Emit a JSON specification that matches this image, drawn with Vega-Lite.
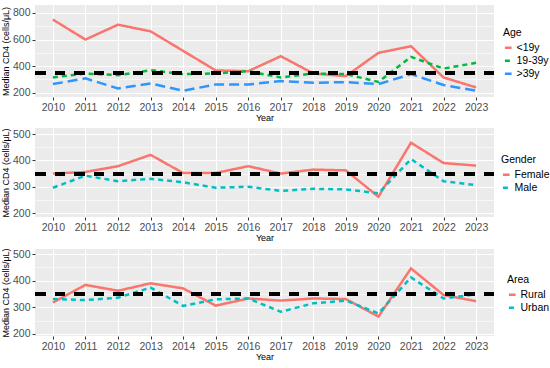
{
  "$schema": "https://vega.github.io/schema/vega-lite/v6.json",
  "background": "white",
  "padding": {"left": 1, "top": 5, "right": 2, "bottom": 3},
  "spacing": 4,
  "datasets": {
    "age": [
      {"Year": "2010", "Group": "<19y", "CD4": 750},
      {"Year": "2011", "Group": "<19y", "CD4": 600},
      {"Year": "2012", "Group": "<19y", "CD4": 712},
      {"Year": "2013", "Group": "<19y", "CD4": 662},
      {"Year": "2014", "Group": "<19y", "CD4": 515},
      {"Year": "2015", "Group": "<19y", "CD4": 368},
      {"Year": "2016", "Group": "<19y", "CD4": 362},
      {"Year": "2017", "Group": "<19y", "CD4": 475},
      {"Year": "2018", "Group": "<19y", "CD4": 345},
      {"Year": "2019", "Group": "<19y", "CD4": 325},
      {"Year": "2020", "Group": "<19y", "CD4": 500},
      {"Year": "2021", "Group": "<19y", "CD4": 550},
      {"Year": "2022", "Group": "<19y", "CD4": 315},
      {"Year": "2023", "Group": "<19y", "CD4": 240},
      {"Year": "2010", "Group": "19-39y", "CD4": 315},
      {"Year": "2011", "Group": "19-39y", "CD4": 345},
      {"Year": "2012", "Group": "19-39y", "CD4": 332},
      {"Year": "2013", "Group": "19-39y", "CD4": 370},
      {"Year": "2014", "Group": "19-39y", "CD4": 340},
      {"Year": "2015", "Group": "19-39y", "CD4": 345},
      {"Year": "2016", "Group": "19-39y", "CD4": 362},
      {"Year": "2017", "Group": "19-39y", "CD4": 315},
      {"Year": "2018", "Group": "19-39y", "CD4": 345},
      {"Year": "2019", "Group": "19-39y", "CD4": 340},
      {"Year": "2020", "Group": "19-39y", "CD4": 282},
      {"Year": "2021", "Group": "19-39y", "CD4": 470},
      {"Year": "2022", "Group": "19-39y", "CD4": 382},
      {"Year": "2023", "Group": "19-39y", "CD4": 425},
      {"Year": "2010", "Group": ">39y", "CD4": 265},
      {"Year": "2011", "Group": ">39y", "CD4": 308},
      {"Year": "2012", "Group": ">39y", "CD4": 232},
      {"Year": "2013", "Group": ">39y", "CD4": 270},
      {"Year": "2014", "Group": ">39y", "CD4": 215},
      {"Year": "2015", "Group": ">39y", "CD4": 262},
      {"Year": "2016", "Group": ">39y", "CD4": 262},
      {"Year": "2017", "Group": ">39y", "CD4": 288},
      {"Year": "2018", "Group": ">39y", "CD4": 275},
      {"Year": "2019", "Group": ">39y", "CD4": 280},
      {"Year": "2020", "Group": ">39y", "CD4": 265},
      {"Year": "2021", "Group": ">39y", "CD4": 340},
      {"Year": "2022", "Group": ">39y", "CD4": 258},
      {"Year": "2023", "Group": ">39y", "CD4": 215}
    ],
    "gender": [
      {"Year": "2010", "Group": "Female", "CD4": 350},
      {"Year": "2011", "Group": "Female", "CD4": 356},
      {"Year": "2012", "Group": "Female", "CD4": 378},
      {"Year": "2013", "Group": "Female", "CD4": 421},
      {"Year": "2014", "Group": "Female", "CD4": 352},
      {"Year": "2015", "Group": "Female", "CD4": 352},
      {"Year": "2016", "Group": "Female", "CD4": 378},
      {"Year": "2017", "Group": "Female", "CD4": 350},
      {"Year": "2018", "Group": "Female", "CD4": 365},
      {"Year": "2019", "Group": "Female", "CD4": 362},
      {"Year": "2020", "Group": "Female", "CD4": 262},
      {"Year": "2021", "Group": "Female", "CD4": 467},
      {"Year": "2022", "Group": "Female", "CD4": 390},
      {"Year": "2023", "Group": "Female", "CD4": 380},
      {"Year": "2010", "Group": "Male", "CD4": 296},
      {"Year": "2011", "Group": "Male", "CD4": 342},
      {"Year": "2012", "Group": "Male", "CD4": 321},
      {"Year": "2013", "Group": "Male", "CD4": 330},
      {"Year": "2014", "Group": "Male", "CD4": 317},
      {"Year": "2015", "Group": "Male", "CD4": 296},
      {"Year": "2016", "Group": "Male", "CD4": 300},
      {"Year": "2017", "Group": "Male", "CD4": 284},
      {"Year": "2018", "Group": "Male", "CD4": 292},
      {"Year": "2019", "Group": "Male", "CD4": 290},
      {"Year": "2020", "Group": "Male", "CD4": 275},
      {"Year": "2021", "Group": "Male", "CD4": 405},
      {"Year": "2022", "Group": "Male", "CD4": 321},
      {"Year": "2023", "Group": "Male", "CD4": 306}
    ],
    "area": [
      {"Year": "2010", "Group": "Rural", "CD4": 318},
      {"Year": "2011", "Group": "Rural", "CD4": 384},
      {"Year": "2012", "Group": "Rural", "CD4": 362},
      {"Year": "2013", "Group": "Rural", "CD4": 390},
      {"Year": "2014", "Group": "Rural", "CD4": 371},
      {"Year": "2015", "Group": "Rural", "CD4": 306},
      {"Year": "2016", "Group": "Rural", "CD4": 333},
      {"Year": "2017", "Group": "Rural", "CD4": 325},
      {"Year": "2018", "Group": "Rural", "CD4": 333},
      {"Year": "2019", "Group": "Rural", "CD4": 331},
      {"Year": "2020", "Group": "Rural", "CD4": 265},
      {"Year": "2021", "Group": "Rural", "CD4": 446},
      {"Year": "2022", "Group": "Rural", "CD4": 346},
      {"Year": "2023", "Group": "Rural", "CD4": 323},
      {"Year": "2010", "Group": "Urban", "CD4": 331},
      {"Year": "2011", "Group": "Urban", "CD4": 327},
      {"Year": "2012", "Group": "Urban", "CD4": 336},
      {"Year": "2013", "Group": "Urban", "CD4": 374},
      {"Year": "2014", "Group": "Urban", "CD4": 305},
      {"Year": "2015", "Group": "Urban", "CD4": 330},
      {"Year": "2016", "Group": "Urban", "CD4": 333},
      {"Year": "2017", "Group": "Urban", "CD4": 283},
      {"Year": "2018", "Group": "Urban", "CD4": 315},
      {"Year": "2019", "Group": "Urban", "CD4": 325},
      {"Year": "2020", "Group": "Urban", "CD4": 277},
      {"Year": "2021", "Group": "Urban", "CD4": 412},
      {"Year": "2022", "Group": "Urban", "CD4": 333},
      {"Year": "2023", "Group": "Urban", "CD4": 349}
    ]
  },
  "resolve": {"scale": {"color": "independent", "strokeDash": "independent", "y": "independent"}, "legend": {"color": "independent", "strokeDash": "independent"}},
  "vconcat": [
    {
      "width": 459, "height": 92,
      "data": {"name": "age"},
      "layer": [
        {
          "mark": {"type": "line", "strokeWidth": 2.5},
          "encoding": {
            "x": {"field": "Year", "type": "ordinal", "scale": {"type": "point", "padding": 0.55}, "axis": {"title": "Year"}},
            "y": {"field": "CD4", "type": "quantitative", "scale": {"domain": [168, 860], "nice": false, "zero": false},
              "axis": {"title": "Median CD4 (cells/μL)", "tickCount": 7, "grid": true,
                "labelExpr": "datum.value % 200 === 0 ? datum.label : ''",
                "gridWidth": {"condition": {"test": "datum.value % 200 === 0", "value": 1.2}, "value": 0.6},
                "tickOpacity": {"condition": {"test": "datum.value % 200 === 0", "value": 1}, "value": 0}}},
            "color": {"field": "Group", "type": "nominal", "scale": {"domain": ["<19y", "19-39y", ">39y"], "range": ["#F8766D", "#00BA38", "#2E95FF"]},
              "legend": {"title": "Age", "orient": "none", "legendX": 468, "legendY": 23}},
            "strokeDash": {"field": "Group", "type": "nominal", "scale": {"domain": ["<19y", "19-39y", ">39y"], "range": [[1, 0], [5, 4], [10, 5]]},
              "legend": {"title": "Age", "orient": "none", "legendX": 468, "legendY": 23}}
          }
        },
        {
          "mark": {"type": "rule", "color": "black", "strokeWidth": 3.3, "strokeDash": [10, 9.5]},
          "encoding": {"y": {"datum": 350}}
        }
      ]
    },
    {
      "width": 459, "height": 89,
      "data": {"name": "gender"},
      "layer": [
        {
          "mark": {"type": "line", "strokeWidth": 2.5},
          "encoding": {
            "x": {"field": "Year", "type": "ordinal", "scale": {"type": "point", "padding": 0.55}, "axis": {"title": "Year"}},
            "y": {"field": "CD4", "type": "quantitative", "scale": {"domain": [185, 523], "nice": false, "zero": false},
              "axis": {"title": "Median CD4 (cells/μL)", "tickCount": 7, "grid": true,
                "labelExpr": "datum.value % 100 === 0 ? datum.label : ''",
                "gridWidth": {"condition": {"test": "datum.value % 100 === 0", "value": 1.2}, "value": 0.6},
                "tickOpacity": {"condition": {"test": "datum.value % 100 === 0", "value": 1}, "value": 0}}},
            "color": {"field": "Group", "type": "nominal", "scale": {"domain": ["Female", "Male"], "range": ["#F8766D", "#00BFC4"]},
              "legend": {"title": "Gender", "orient": "none", "legendX": 466, "legendY": 27}},
            "strokeDash": {"field": "Group", "type": "nominal", "scale": {"domain": ["Female", "Male"], "range": [[1, 0], [5, 4]]},
              "legend": {"title": "Gender", "orient": "none", "legendX": 466, "legendY": 27}}
          }
        },
        {
          "mark": {"type": "rule", "color": "black", "strokeWidth": 3.3, "strokeDash": [10, 9.5]},
          "encoding": {"y": {"datum": 350}}
        }
      ]
    },
    {
      "width": 459, "height": 87,
      "data": {"name": "area"},
      "layer": [
        {
          "mark": {"type": "line", "strokeWidth": 2.5},
          "encoding": {
            "x": {"field": "Year", "type": "ordinal", "scale": {"type": "point", "padding": 0.55}, "axis": {"title": "Year"}},
            "y": {"field": "CD4", "type": "quantitative", "scale": {"domain": [192, 519], "nice": false, "zero": false},
              "axis": {"title": "Median CD4 (cells/μL)", "tickCount": 7, "grid": true,
                "labelExpr": "datum.value % 100 === 0 ? datum.label : ''",
                "gridWidth": {"condition": {"test": "datum.value % 100 === 0", "value": 1.2}, "value": 0.6},
                "tickOpacity": {"condition": {"test": "datum.value % 100 === 0", "value": 1}, "value": 0}}},
            "color": {"field": "Group", "type": "nominal", "scale": {"domain": ["Rural", "Urban"], "range": ["#F8766D", "#00BFC4"]},
              "legend": {"title": "Area", "orient": "none", "legendX": 472, "legendY": 26}},
            "strokeDash": {"field": "Group", "type": "nominal", "scale": {"domain": ["Rural", "Urban"], "range": [[1, 0], [5, 4]]},
              "legend": {"title": "Area", "orient": "none", "legendX": 472, "legendY": 26}}
          }
        },
        {
          "mark": {"type": "rule", "color": "black", "strokeWidth": 3.3, "strokeDash": [10, 9.5]},
          "encoding": {"y": {"datum": 350}}
        }
      ]
    }
  ],
  "config": {
    "font": "Liberation Sans",
    "view": {"fill": "#EBEBEB", "stroke": null},
    "axis": {
      "gridColor": "#FFFFFF", "gridOpacity": 1, "domain": false, "tickColor": "#333333", "tickSize": 3, "tickWidth": 1,
      "labelColor": "#4D4D4D", "labelFontSize": 10.5, "labelPadding": 2,
      "titleFontSize": 9, "titleFontWeight": "normal", "titleColor": "black"
    },
    "axisX": {"labelAngle": 0, "titlePadding": 1, "grid": true},
    "axisY": {"titlePadding": 2},
    "legend": {"titleFontSize": 10.5, "titleFontWeight": "normal", "labelFontSize": 10.5, "labelColor": "black",
      "symbolType": "stroke", "symbolStrokeWidth": 2.5, "symbolSize": 45, "rowPadding": 2, "titlePadding": 4, "labelOffset": 3}
  }
}
